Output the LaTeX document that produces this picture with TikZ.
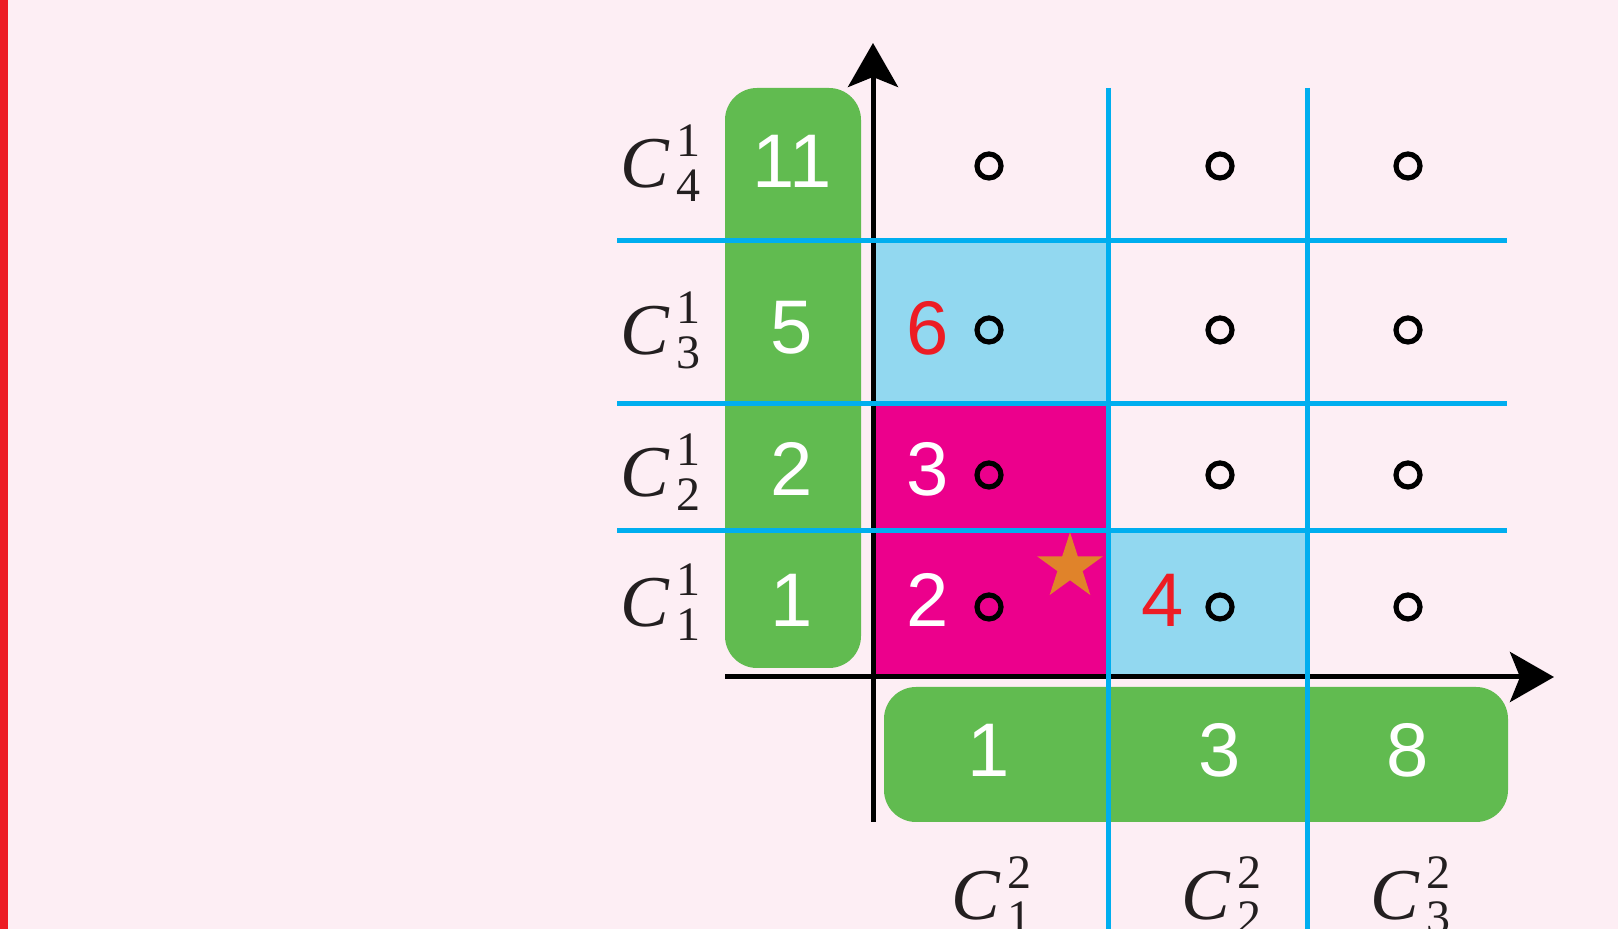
\documentclass[tikz,border=0pt]{standalone}
\usepackage{fontspec}
\setmainfont{Liberation Sans}
\newfontfamily\labfont{Liberation Serif}
\usepackage{xcolor}
\usepackage{tikz}
\usetikzlibrary{positioning, arrows.meta, shapes.geometric, calc}

\definecolor{bgpink}{RGB}{253,238,244}
\definecolor{edgered}{RGB}{237,28,36}
\definecolor{bargreen}{RGB}{97,187,80}
\definecolor{gridblue}{RGB}{0,174,239}
\definecolor{cellblue}{RGB}{146,216,240}
\definecolor{cellmagenta}{RGB}{236,0,140}
\definecolor{starorange}{RGB}{224,131,42}
\definecolor{labink}{RGB}{35,31,32}

% ---- C^i_j label ----
\newcommand{\scriptdig}[1]{{\labfont\fontsize{24}{24}\selectfont #1}}
\newcommand{\clab}[2]{{\labfont\itshape C}\kern3.5pt%
    \rlap{\raisebox{15.5pt}{\scriptdig{#1}}}\raisebox{-7pt}{\scriptdig{#2}}}

\begin{document}
\begin{tikzpicture}[
    x=0.5pt, y=-0.5pt,
    % ---- numbers ----
    num/.style={font=\fontsize{38}{40}\selectfont, text=white, inner sep=0pt},
    rednum/.style={num, text=edgered},
    % ---- axis labels ----
    clabel/.style={font=\fontsize{36.5}{38}\selectfont, inner sep=0pt, text=labink, anchor=base west},
    % ---- small circles ----
    cellpt/.style={circle, draw=black, line width=2.6pt, minimum size=12pt, inner sep=0pt},
    % ---- lines ----
    bline/.style={draw=gridblue, line width=2.5pt},
    axis/.style={draw=black, line width=2.5pt, -{Stealth[length=22pt, width=25pt, inset=5pt]}},
    greenbox/.style={fill=bargreen, rounded corners=16pt}
]

% ---- canvas ----
\useasboundingbox (0,0) rectangle (1618,929);
\fill[bgpink] (0,0) rectangle (1618,929);
\fill[edgered] (0,0) rectangle (8,929);

% ---- axis points ----
\coordinate (O) at (873,677);
\coordinate (ytop) at (873,43);
\coordinate (ybot) at (873,822);
\coordinate (xleft) at (725,677);
\coordinate (xright) at (1554,677);

% ---- coloured cells ----
\fill[cellblue] (873,241) rectangle (1108,404);
\fill[cellmagenta] (873,404) rectangle (1108,677);
\fill[cellblue] (1108,531) rectangle (1307,677);

% ---- green bars ----
\fill[greenbox] (725,88) rectangle (861,668);
\fill[greenbox] (884,687) rectangle (1508,822);

% ---- axes ----
\draw[axis] (ybot) -- (ytop);
\draw[axis] (xleft) -- (xright);

% ---- blue grid ----
\coordinate (h1l) at (617,241);  \coordinate (h1r) at (1507,241);
\coordinate (h2l) at (617,404);  \coordinate (h2r) at (1507,404);
\coordinate (h3l) at (617,531);  \coordinate (h3r) at (1507,531);
\coordinate (v1t) at (1108,88);  \coordinate (v1b) at (1108,929);
\coordinate (v2t) at (1307,88);  \coordinate (v2b) at (1307,929);
\draw[bline] (h1l) -- (h1r);
\draw[bline] (h2l) -- (h2r);
\draw[bline] (h3l) -- (h3r);
\draw[bline] (v1t) -- (v1b);
\draw[bline] (v2t) -- (v2b);

% ---- row sizes ----
\node[num] (r4) at (792,161) {11};
\node[num] (r3) at (792,328) {5};
\node[num] (r2) at (792,469) {2};
\node[num] (r1) at (792,600) {1};

% ---- column sizes ----
\node[num] (k1) at (989,750) {1};
\node[num] (k2) at (1220,750) {3};
\node[num] (k3) at (1408,750) {8};

% ---- cell values ----
\node[rednum] (v13) at (928,328) {6};
\node[num] (v12) at (928,469) {3};
\node[num] (v11) at (928,600) {2};
\node[rednum] (v21) at (1163,600) {4};

% ---- grid points ----
\node[cellpt] (p14) at (989,166) {};
\node[cellpt] (p24) at (1220,166) {};
\node[cellpt] (p34) at (1408,166) {};
\node[cellpt] (p13) at (989,330) {};
\node[cellpt] (p23) at (1220,330) {};
\node[cellpt] (p33) at (1408,330) {};
\node[cellpt] (p12) at (989,475) {};
\node[cellpt] (p22) at (1220,475) {};
\node[cellpt] (p32) at (1408,475) {};
\node[cellpt] (p11) at (989,607) {};
\node[cellpt] (p21) at (1220,607) {};
\node[cellpt] (p31) at (1408,607) {};

% ---- star ----
\node[star, star points=5, star point ratio=2.618, fill=starorange,
      minimum size=34.7pt, inner sep=0pt] (best) at (1070,567) {};

% ---- row labels ----
\node[clabel] (c14) at (620,188) {\clab{1}{4}};
\node[clabel] (c13) at (620,355) {\clab{1}{3}};
\node[clabel] (c12) at (620,497) {\clab{1}{2}};
\node[clabel] (c11) at (620,627) {\clab{1}{1}};

% ---- column labels ----
\node[clabel] (c21) at (951,920) {\clab{2}{1}};
\node[clabel] (c22) at (1181,920) {\clab{2}{2}};
\node[clabel] (c23) at (1370,920) {\clab{2}{3}};

\end{tikzpicture}
\end{document}
